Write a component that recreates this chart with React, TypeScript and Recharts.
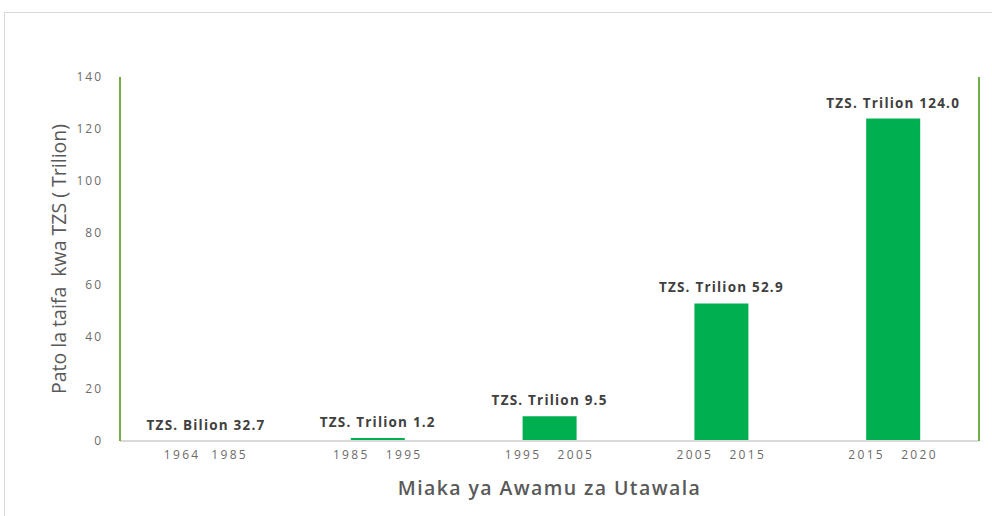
import React from "react";
import { BarChart, Bar, XAxis, YAxis, LabelList } from "recharts";

const categories = ["1964  1985", "1985   1995", "1995   2005", "2005   2015", "2015   2020"];
const values = [0.0327, 1.2, 9.5, 52.9, 124.0];
const valueLabels = [
  "TZS. Bilion 32.7",
  "TZS. Trilion 1.2",
  "TZS. Trilion 9.5",
  "TZS. Trilion 52.9",
  "TZS. Trilion 124.0",
];
const yTicks = [0, 20, 40, 60, 80, 100, 120, 140];
const yTitle = "Pato la taifa  kwa TZS ( Trilion)";
const xTitle = "Miaka ya Awamu za Utawala";

const data = categories.map((c, i) => ({ name: c, value: values[i], label: valueLabels[i] }));

const FONT = "'Open Sans', sans-serif";

const XTick = (props: any) => {
  const { x, y, payload } = props;
  return (
    <text
      x={x}
      y={y}
      dy={10}
      textAnchor="middle"
      fill="#6b6b6b"
      fontSize={12}
      letterSpacing={2.3}
      fontFamily={FONT}
      xmlSpace="preserve"
      style={{ whiteSpace: "pre" }}
    >
      {payload.value}
    </text>
  );
};

const YTick = (props: any) => {
  const { x, y, payload } = props;
  return (
    <text x={x + 2} y={y} dy={4} textAnchor="end" fill="#6b6b6b" fontSize={12} letterSpacing={2} fontFamily={FONT}>
      {payload.value}
    </text>
  );
};

const BarLabel = (props: any) => {
  const { x, y, width, value } = props;
  return (
    <text
      x={x + width / 2}
      y={y - 11}
      textAnchor="middle"
      fill="#404040"
      fontSize={13.5}
      fontWeight={700}
      letterSpacing={1.2}
      fontFamily={FONT}
    >
      {value}
    </text>
  );
};

export default function App() {
  return (
    <div style={{ position: "absolute", left: 0, top: 0, width: 992, height: 516, background: "#fff", overflow: "hidden" }}>
      <div
        style={{
          position: "absolute",
          left: 4,
          top: 12,
          width: 1100,
          height: 600,
          border: "1px solid #d9d9d9",
        }}
      />
      <div style={{ position: "absolute", left: 0, top: 0 }}>
        <BarChart
          width={992}
          height={516}
          data={data}
          margin={{ top: 77, right: 0, bottom: 50, left: 0 }}
          barSize={54}
        >
          <XAxis
            dataKey="name"
            stroke="#d9d9d9"
            strokeWidth={2}
            tickLine={false}
            tick={<XTick />}
            height={25}
            interval={0}
            label={{
              content: (p: any) => {
                const vb = p.viewBox;
                return (
                  <text
                    x={vb.x + vb.width / 2}
                    y={495}
                    textAnchor="middle"
                    fill="#595959"
                    fontSize={19.5}
                    fontWeight={600}
                    letterSpacing={1.4}
                    fontFamily={FONT}
                  >
                    {xTitle}
                  </text>
                );
              },
            }}
          />
          <YAxis
            yAxisId="l"
            width={120}
            domain={[0, 140]}
            ticks={yTicks}
            stroke="#70ad47"
            strokeWidth={2}
            tickLine={false}
            tickSize={6}
            tickMargin={13}
            tick={<YTick />}
            label={{
              content: (p: any) => {
                const vb = p.viewBox;
                const cx = 58;
                const cy = vb.y + vb.height / 2;
                return (
                  <text
                    x={cx}
                    y={cy}
                    transform={`rotate(-90 ${cx} ${cy})`}
                    textAnchor="middle"
                    dominantBaseline="central"
                    fill="#595959"
                    fontSize={19.5}
                    fontFamily={FONT}
                    xmlSpace="preserve"
                    style={{ whiteSpace: "pre" }}
                  >
                    {yTitle}
                  </text>
                );
              },
            }}
          />
          <YAxis
            yAxisId="r"
            orientation="right"
            width={13}
            domain={[0, 140]}
            ticks={yTicks}
            stroke="#70ad47"
            strokeWidth={2}
            tick={false}
            tickLine={false}
          />
          <Bar yAxisId="l" dataKey="value" fill="#00b050" isAnimationActive={false}>
            <LabelList dataKey="label" content={<BarLabel />} />
          </Bar>
        </BarChart>
      </div>
    </div>
  );
}
